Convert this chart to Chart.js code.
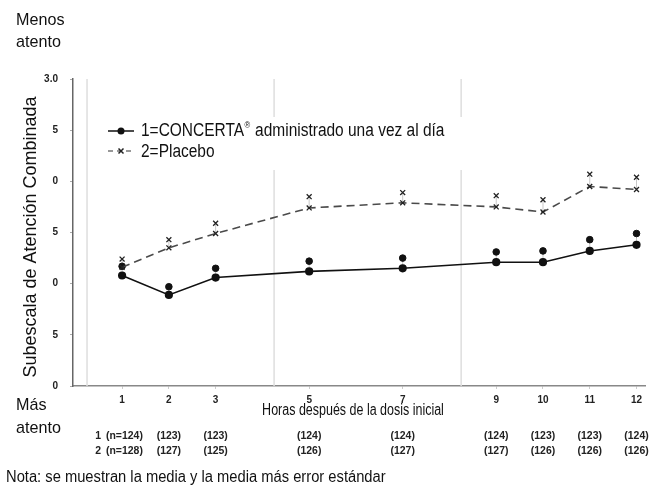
<!DOCTYPE html>
<html>
<head>
<meta charset="utf-8">
<script src="https://cdn.jsdelivr.net/npm/chart.js@4"></script>
<style>
  html, body { margin: 0; padding: 0; background: #fff; }
  #wrap { width: 651px; height: 489px; position: relative; }
</style>
</head>
<body>
<div id="wrap"><canvas id="myChart"></canvas></div>
<script>
// hours after first dose
const horas = [1, 2, 3, 5, 7, 9, 10, 11, 12];
// means and mean + standard error
const concertaMedia = [1.08, 0.89, 1.06, 1.12, 1.15, 1.21, 1.21, 1.32, 1.38];
const concertaError = [1.17, 0.97, 1.15, 1.22, 1.25, 1.31, 1.32, 1.43, 1.49];
const placeboMedia = [1.16, 1.35, 1.49, 1.74, 1.79, 1.75, 1.70, 1.95, 1.92];
const placeboError = [1.24, 1.43, 1.59, 1.85, 1.89, 1.86, 1.82, 2.07, 2.04];
// n per group under the axis
const nConcerta = ['(n=124)', '(123)', '(123)', '(124)', '(124)', '(124)', '(123)', '(123)', '(124)'];
const nPlacebo = ['(n=128)', '(127)', '(125)', '(126)', '(127)', '(127)', '(126)', '(126)', '(126)'];
// y tick labels as printed (truncated in the original)
const yTickValues = [0, 0.5, 1, 1.5, 2, 2.5, 3];
const yTickLabels = ['0', '5', '0', '5', '0', '5', '3.0'];
// light vertical grid lines
const gridHours = [0.25, 4.25, 8.25];

const SANS = '"Liberation Sans", Arial, sans-serif';

const pts = (ys) => horas.map((h, i) => ({x: h, y: ys[i]}));

// no narrow font installed, so squeeze the text horizontally
function narrow(ctx, text, x, y, sx, align) {
  ctx.save();
  ctx.translate(x, y);
  ctx.scale(sx, 1);
  ctx.textAlign = align;
  ctx.fillText(text, 0, 0);
  const w = ctx.measureText(text).width * sx;
  ctx.restore();
  return w;
}

const extras = {
  id: 'extras',
  beforeDatasetsDraw(chart) {
    const {ctx, chartArea: a, scales: {x, y}} = chart;
    ctx.save();
    ctx.strokeStyle = '#dedede';
    ctx.lineWidth = 1.5;
    gridHours.forEach(h => {
      const px = x.getPixelForValue(h);
      ctx.beginPath(); ctx.moveTo(px, a.top); ctx.lineTo(px, a.bottom); ctx.stroke();
    });
    // whiskers mean -> mean + SE
    ctx.strokeStyle = '#c8c8c8';
    ctx.lineWidth = 1;
    [[concertaMedia, concertaError], [placeboMedia, placeboError]].forEach(([m, e]) => {
      horas.forEach((h, i) => {
        const px = x.getPixelForValue(h);
        ctx.beginPath(); ctx.moveTo(px, y.getPixelForValue(m[i])); ctx.lineTo(px, y.getPixelForValue(e[i])); ctx.stroke();
      });
    });
    ctx.restore();
  },
  afterDraw(chart) {
    const {ctx, scales: {x}} = chart;
    ctx.save();
    ctx.fillStyle = '#111';
    ctx.textBaseline = 'alphabetic';
    ctx.font = '17px ' + SANS;
    narrow(ctx, 'Menos', 16, 24.5, 0.95, 'left');
    narrow(ctx, 'atento', 16, 47, 0.95, 'left');
    narrow(ctx, 'Más', 16, 409.5, 0.95, 'left');
    narrow(ctx, 'atento', 16, 433, 0.95, 'left');

    // y title
    ctx.save();
    ctx.translate(31, 237);
    ctx.rotate(-Math.PI / 2);
    ctx.textAlign = 'center';
    ctx.textBaseline = 'middle';
    ctx.font = '18px ' + SANS;
    ctx.fillText('Subescala de Atención Combinada', 0, 0);
    ctx.restore();

    // x title
    ctx.textBaseline = 'middle';
    ctx.font = '16px ' + SANS;
    narrow(ctx, 'Horas después de la dosis inicial', 353, 411, 0.78, 'center');

    // n table
    ctx.font = 'bold 11px ' + SANS;
    ctx.fillStyle = '#222';
    [[nConcerta, 436, '1'], [nPlacebo, 451, '2']].forEach(([row, yy, lab]) => {
      narrow(ctx, lab, 101, yy, 0.95, 'right');
      row.forEach((t, i) => {
        if (i === 0) narrow(ctx, t, 106, yy, 0.95, 'left');
        else narrow(ctx, t, x.getPixelForValue(horas[i]), yy, 0.95, 'center');
      });
    });

    // note
    ctx.fillStyle = '#111';
    ctx.font = '16px ' + SANS;
    narrow(ctx, 'Nota: se muestran la media y la media más error estándar', 6, 478, 0.92, 'left');

    // legend
    ctx.fillStyle = '#fff';
    ctx.fillRect(100, 117, 372, 53);
    ctx.strokeStyle = '#111';
    ctx.lineWidth = 1.5;
    ctx.beginPath(); ctx.moveTo(108, 131); ctx.lineTo(134, 131); ctx.stroke();
    ctx.fillStyle = '#111';
    ctx.beginPath(); ctx.arc(121, 131, 3.5, 0, Math.PI * 2); ctx.fill();
    ctx.strokeStyle = '#777';
    ctx.setLineDash([5, 4]);
    ctx.beginPath(); ctx.moveTo(108, 151); ctx.lineTo(134, 151); ctx.stroke();
    ctx.setLineDash([]);
    ctx.strokeStyle = '#222';
    ctx.beginPath();
    ctx.moveTo(118.5, 148.5); ctx.lineTo(123.5, 153.5);
    ctx.moveTo(123.5, 148.5); ctx.lineTo(118.5, 153.5);
    ctx.stroke();
    ctx.fillStyle = '#111';
    const sx = 0.86;
    ctx.font = '18px ' + SANS;
    let px = 141;
    px += narrow(ctx, '1=CONCERTA', px, 131, sx, 'left');
    ctx.font = '9px ' + SANS;
    px += narrow(ctx, '®', px + 0.5, 126, sx, 'left') + 1;
    ctx.font = '18px ' + SANS;
    narrow(ctx, ' administrado una vez al día', px, 131, sx, 'left');
    narrow(ctx, '2=Placebo', 141, 152, sx, 'left');
    ctx.restore();
  }
};

new Chart(document.getElementById('myChart').getContext('2d'), {
  type: 'line',
  data: {
    datasets: [
      {
        label: '1=CONCERTA',
        data: pts(concertaMedia),
        borderColor: '#111',
        backgroundColor: '#111',
        borderWidth: 1.6,
        pointStyle: 'circle',
        pointRadius: 3.3,
        tension: 0
      },
      {
        label: '2=Placebo',
        data: pts(placeboMedia),
        borderColor: '#4a4a4a',
        backgroundColor: '#222',
        borderWidth: 1.6,
        borderDash: [8, 5],
        pointStyle: 'crossRot',
        pointRadius: 3.5,
        pointBorderColor: '#222',
        pointBorderWidth: 1.3,
        tension: 0
      },
      {
        label: 'Concerta + EE',
        data: pts(concertaError),
        showLine: false,
        backgroundColor: '#111',
        borderColor: '#111',
        pointStyle: 'circle',
        pointRadius: 3.3
      },
      {
        label: 'Placebo + EE',
        data: pts(placeboError),
        showLine: false,
        borderColor: '#222',
        pointStyle: 'crossRot',
        pointRadius: 3.5,
        pointBorderWidth: 1.3
      }
    ]
  },
  options: {
    responsive: true,
    maintainAspectRatio: false,
    animation: false,
    layout: { padding: { top: 79, right: 5, left: 0, bottom: 0 } },
    plugins: { legend: { display: false }, tooltip: { enabled: false } },
    scales: {
      x: {
        type: 'linear',
        min: -0.05,
        max: 12.19,
        afterBuildTicks: (s) => { s.ticks = horas.map(v => ({value: v})); },
        afterFit: (s) => { s.height = 103; },
        grid: { drawOnChartArea: false, tickLength: 3, color: '#ccc' },
        border: { color: '#888', width: 1.5 },
        ticks: {
          padding: 5,
          color: '#222',
          font: { family: SANS, size: 10, weight: 'bold' }
        }
      },
      y: {
        min: 0,
        max: 3,
        afterBuildTicks: (s) => { s.ticks = yTickValues.map(v => ({value: v})); },
        afterFit: (s) => { s.width = 73; },
        grid: { drawOnChartArea: false, tickLength: 3, color: '#aaa' },
        border: { color: '#666', width: 1.5 },
        ticks: {
          padding: 12,
          color: '#222',
          font: { family: SANS, size: 10, weight: 'bold' },
          callback: (v) => yTickLabels[yTickValues.indexOf(v)]
        }
      }
    }
  },
  plugins: [extras]
});
</script>
</body>
</html>
